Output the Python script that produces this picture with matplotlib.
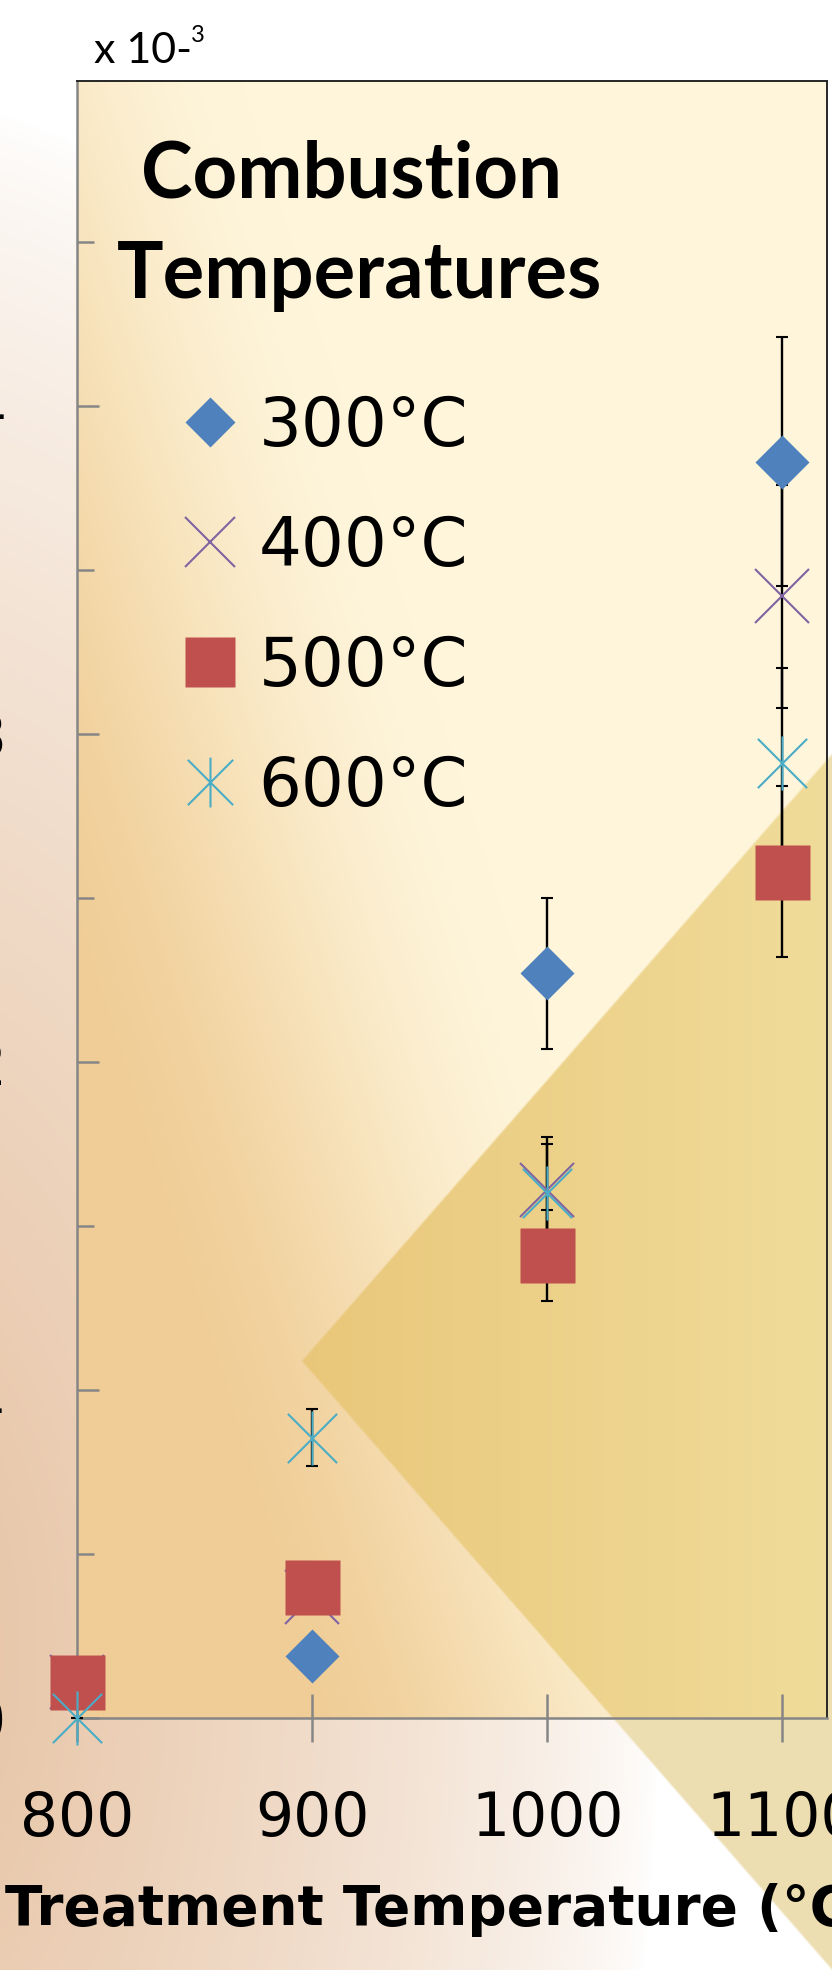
import numpy as np
import matplotlib
matplotlib.use('Agg')
import matplotlib.pyplot as plt
from matplotlib.path import Path

# reaction rate (x 10^-3) per treatment temperature, one series per combustion temperature
temps = [800, 900, 1000, 1100]
labels = ['300°C', '400°C', '500°C', '600°C']
rate_300 = [0.10, 0.19, 2.27, 3.83]
err_300 = [0.0, 0.05, 0.23, 0.38]
rate_400 = [0.11, 0.37, 1.61, 3.42]
err_400 = [0.0, 0.0, 0.16, 0.34]
rate_500 = [0.11, 0.40, 1.41, 2.58]
err_500 = [0.0, 0.05, 0.14, 0.26]
rate_600 = [0.0, 0.855, 1.60, 2.91]
err_600 = [0.0, 0.086, 0.15, 0.29]
yticks = [0, 1, 2, 3, 4]

W, H = 832, 1970
X0, X1, Y0, Y1 = 77, 827, 81, 1718   # plot area in pixels (from top)

blue = '#4F81BD'
purple = '#8064A2'
red = '#C0504D'
cyan = '#4BACC6'
axis_grey = '#868686'

plt.rcParams['font.family'] = 'DejaVu Sans'


def fx(x):
    return x / W


def fy(y):
    return 1 - y / H


# ---- slide background, plot area fill and the gold arrow shape ----
yy, xx = np.mgrid[0:H, 0:W] + 0.5

d = np.sqrt(((xx + 100) / 760) ** 2 + ((yy - 1650) / 1550) ** 2)
w = np.clip(1 - d, 0, 1) ** 0.7
peach = np.array([230, 194, 162]) / 255
bg = 1 - w[..., None] * (1 - peach)

u = (xx - X0) / (X1 - X0)
v = (Y1 - yy) / (Y1 - Y0)
t = np.clip(1.6 * u + 1.1 * v - 0.45, 0, 1)
t = t * t * (3 - 2 * t)
orange = np.array([240, 205, 150]) / 255
cream = np.array([254, 245, 219]) / 255
plot_fill = orange + (cream - orange) * t[..., None]
inside = (xx >= X0) & (xx <= X1) & (yy >= Y0) & (yy <= Y1)
bg = np.where(inside[..., None], plot_fill, bg)

ax_, ay_ = 302, 1361
f1 = (yy - (ay_ - 1.145 * (xx - ax_))) / 1.52
f2 = ((ay_ + 1.148 * (xx - ax_)) - yy) / 1.523
m = np.clip(np.minimum(f1, f2) / 2.5 + 0.5, 0, 1)
s = np.clip((xx - ax_) / (X1 - ax_), 0, 1)
gold_a = np.array([233, 199, 122]) / 255
gold_b = np.array([240, 220, 154]) / 255
gold_in = gold_a + (gold_b - gold_a) * s[..., None]
gold_out = np.array([237, 222, 178]) / 255
gold = np.where(inside[..., None], gold_in, gold_out)
bg = bg * (1 - m[..., None]) + gold * m[..., None]

fig = plt.figure(figsize=(W / 100, H / 100), dpi=100)
fig.patch.set_facecolor('white')
fig.figimage(np.clip(bg, 0, 1), xo=0, yo=0, origin='upper', zorder=-1)

ax = fig.add_axes([fx(X0), fy(Y1), (X1 - X0) / W, (Y1 - Y0) / H])
ax.set_facecolor('none')

for side in ['left', 'bottom']:
    ax.spines[side].set_color(axis_grey)
    ax.spines[side].set_linewidth(1.8)
for side in ['top', 'right']:
    ax.spines[side].set_color('#262626')
    ax.spines[side].set_linewidth(1.4)

# asterisk marker: an x with a vertical stroke
star = Path([(-1, -1), (1, 1), (-1, 1), (1, -1), (0, -1.1), (0, 1.1)],
            [Path.MOVETO, Path.LINETO] * 3)

series = [
    (rate_300, err_300, dict(marker='D', ms=28, mfc=blue, mec='none')),
    (rate_400, err_400, dict(marker='x', ms=39, mew=1.5, color=purple)),
    (rate_500, err_500, dict(marker='s', ms=39.6, mfc=red, mec='none')),
    (rate_600, err_600, dict(marker=star, ms=39, mew=1.5, color=cyan, mfc='none')),
]

for vals, errs, style in series:
    eb = ax.errorbar(temps, vals, yerr=errs, fmt='none', ecolor='black',
                     elinewidth=1.7, capsize=4.3, capthick=1.5, zorder=3)
    for art in eb.get_children():
        art.set_clip_on(False)

for i, (vals, errs, style) in enumerate(series):
    ax.plot(temps, vals, linestyle='none', label=labels[i], clip_on=False,
            zorder=5 + i, **style)

ax.set_xlim(800, 1119)
ax.set_ylim(0, 4.99)
ax.set_xticks(temps)
ax.set_yticks(yticks)
ax.set_yticks(np.arange(0.5, 5, 1), minor=True)
ax.tick_params(axis='x', which='major', direction='inout', length=34, width=1.8,
               color=axis_grey, labelsize=43, pad=35)
ax.tick_params(axis='y', which='major', direction='in', length=16, width=1.8,
               color=axis_grey, labelsize=43, pad=51)
ax.tick_params(axis='y', which='minor', direction='in', length=12.5, width=1.8,
               color=axis_grey)

ax.set_xlabel('Treatment Temperature (°C)', fontsize=39.5, fontweight='bold',
              ha='left', va='center')
ax.xaxis.set_label_coords((5 - X0) / (X1 - X0), -(1910 - Y1) / (Y1 - Y0))

# legend, with its heading set as separate text lines
ax.legend(loc='upper left', bbox_to_anchor=(fx(183), fy(394)),
          bbox_transform=fig.transFigure, frameon=False,
          prop={'family': 'DejaVu Sans', 'size': 48.5}, handlelength=0.8,
          handletextpad=0.32, labelspacing=0.8, borderpad=0,
          borderaxespad=0, markerscale=0.92)
fig.text(fx(352), fy(197), 'Combustion', family='Lato', fontweight='bold',
         fontsize=56, ha='center', va='baseline')
fig.text(fx(360), fy(298), 'Temperatures', family='Lato', fontweight='bold',
         fontsize=56, ha='center', va='baseline')

# axis multiplier
fig.text(fx(94), fy(63), 'x 10-', family='Lato', fontsize=31, va='baseline')
fig.text(fx(191), fy(42), '3', family='Lato', fontsize=17, va='baseline')

fig.savefig('out.png', dpi=100)
